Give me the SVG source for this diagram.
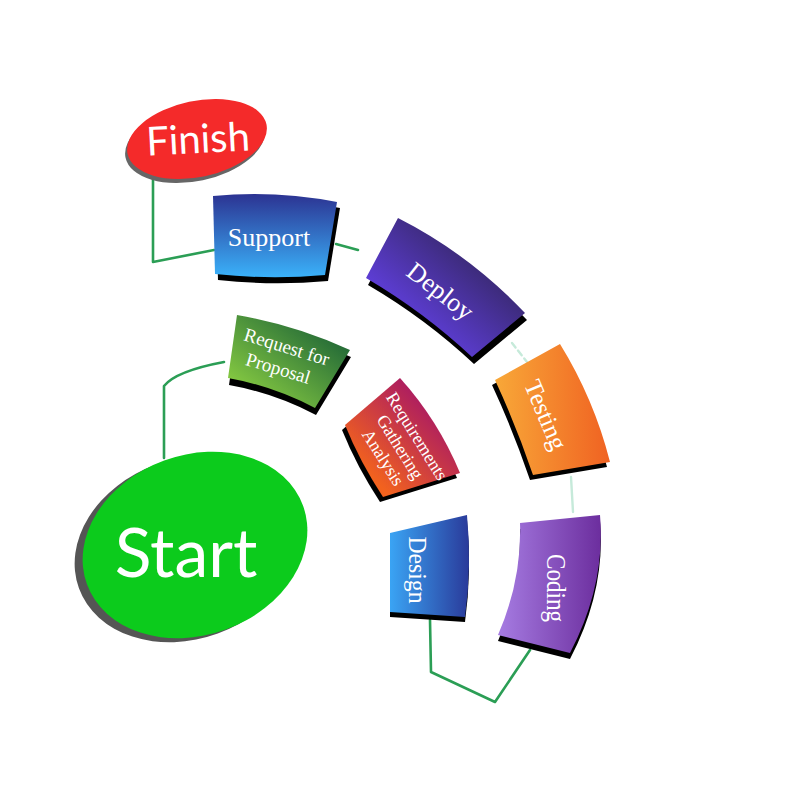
<svg xmlns="http://www.w3.org/2000/svg" width="800" height="800" viewBox="0 0 800 800">
<style>
.sh{fill:#000}
.lbl{font-family:"Liberation Serif","Times New Roman",serif;fill:#ffffff;text-anchor:middle}
.big{font-family:Lato,"Open Sans",sans-serif;fill:#ffffff;text-anchor:middle}
.con{fill:none;stroke:#2b9e55;stroke-width:2.6;stroke-linejoin:round;stroke-linecap:round}
.faint{fill:none;stroke:#c6eada;stroke-width:2.4;stroke-linecap:round}
</style>
<defs>
<linearGradient id="gSupport" x1="0" y1="0" x2="0" y2="1"><stop offset="0" stop-color="#2c3392"/><stop offset="1" stop-color="#3ab2fa"/></linearGradient>
<linearGradient id="gDeploy" x1="0" y1="1" x2="1" y2="0"><stop offset="0.1" stop-color="#6c46ff"/><stop offset="0.9" stop-color="#2a2046"/></linearGradient>
<linearGradient id="gTesting" x1="0" y1="0" x2="1" y2="0"><stop offset="0" stop-color="#f8a838"/><stop offset="1" stop-color="#f06222"/></linearGradient>
<linearGradient id="gCoding" x1="0" y1="0" x2="1" y2="0"><stop offset="0" stop-color="#a67ce2"/><stop offset="1" stop-color="#6c2e9e"/></linearGradient>
<linearGradient id="gDesign" x1="0" y1="0" x2="1" y2="0"><stop offset="0" stop-color="#3aa4f4"/><stop offset="1" stop-color="#2a3a9a"/></linearGradient>
<linearGradient id="gReq" x1="0" y1="1" x2="1" y2="0"><stop offset="0.2" stop-color="#f2621e"/><stop offset="0.85" stop-color="#a0106c"/></linearGradient>
<linearGradient id="gRfp" x1="0" y1="1" x2="1" y2="0"><stop offset="0.1" stop-color="#8cd042"/><stop offset="0.9" stop-color="#196036"/></linearGradient>
<linearGradient id="gStartLine" gradientUnits="userSpaceOnUse" x1="164" y1="400" x2="224" y2="362"><stop offset="0" stop-color="#2b9e55"/><stop offset="1" stop-color="#2b9e55" stop-opacity="0.1"/></linearGradient>
</defs>

<g id="connectors">
<path class="con" d="M153,177 L153,262 L214,250"/>
<path class="con" d="M336,244 L358,250"/>
<path class="faint" d="M512,343 Q519,352 527,362" stroke-dasharray="6 4"/>
<path class="faint" d="M571,477 L573,512"/>
<path class="con" stroke="#3aa864" d="M430,620 L431,672 L495,702 L530,650"/>
<path class="con" stroke="url(#gStartLine)" d="M164,458 L164,386 Q176,371 224,362"/>
</g>

<g id="finish">
<ellipse cx="195" cy="143" rx="71" ry="38" transform="rotate(-12 195 143)" fill="#666"/>
<ellipse cx="197" cy="139" rx="71" ry="38" transform="rotate(-12 197 139)" fill="#f42a2a"/>
<text class="big" x="198" y="153" font-size="40" transform="rotate(-3 198 140)">Finish</text>
</g>

<g id="support">
<path class="sh" transform="translate(3,6)" d="M213,196 Q275,190 337,202 L325,275 Q270,280 215,274 Z"/>
<path fill="url(#gSupport)" d="M213,196 Q275,190 337,202 L325,275 Q270,280 215,274 Z"/>
<text class="lbl" x="269" y="246" font-size="26">Support</text>
</g>

<g id="deploy">
<path class="sh" transform="translate(2,7)" d="M398,218 Q469,254 525,313 L472,357 Q424,312 366,278 Z"/>
<path fill="url(#gDeploy)" d="M398,218 Q469,254 525,313 L472,357 Q424,312 366,278 Z"/>
<text class="lbl" font-size="26" transform="translate(435,298) rotate(38)">Deploy</text>
</g>

<g id="testing">
<path class="sh" transform="translate(-3,5)" d="M495,380 L560,344 Q594,399 610,462 L533,475 Q516,425 495,380 Z"/>
<path fill="url(#gTesting)" d="M495,380 L560,344 Q594,399 610,462 L533,475 Q516,425 495,380 Z"/>
<text class="lbl" font-size="25" transform="translate(538,418) rotate(67)">Testing</text>
</g>

<g id="coding">
<path class="sh" transform="translate(0,6)" d="M520,523 L600,515 Q606,584 570,653 L498,635 Q522,580 520,523 Z"/>
<path fill="url(#gCoding)" d="M520,523 L600,515 Q606,584 570,653 L498,635 Q522,580 520,523 Z"/>
<text class="lbl" font-size="27" textLength="68" lengthAdjust="spacingAndGlyphs" transform="translate(547,588) rotate(90)">Coding</text>
</g>

<g id="design">
<path class="sh" transform="translate(0,5)" d="M390,533 L467,515 Q472,566 465,617 L390,612 Z"/>
<path fill="url(#gDesign)" d="M390,533 L467,515 Q472,566 465,617 L390,612 Z"/>
<text class="lbl" font-size="25" textLength="67" lengthAdjust="spacingAndGlyphs" transform="translate(409,570) rotate(90)">Design</text>
</g>

<g id="requirements">
<path class="sh" transform="translate(-3,5)" d="M400,378 Q438,420 460,473 L383,497 Q360,462 345,425 Z"/>
<path fill="url(#gReq)" d="M400,378 Q438,420 460,473 L383,497 Q360,462 345,425 Z"/>
<text class="lbl" font-size="18" transform="translate(395,450) rotate(58)"><tspan x="0" y="-20">Requirements</tspan><tspan x="0" y="0">Gathering</tspan><tspan x="0" y="20">Analysis</tspan></text>
</g>

<g id="rfp">
<path class="sh" transform="translate(1,7)" d="M237,315 Q296,325 350,350 L315,408 Q273,386 228,378 Z"/>
<path fill="url(#gRfp)" d="M237,315 Q296,325 350,350 L315,408 Q273,386 228,378 Z"/>
<text class="lbl" font-size="19" transform="translate(285,353) rotate(17)"><tspan x="0" y="0">Request for</tspan><tspan x="-2" y="23">Proposal</tspan></text>
</g>

<g id="start">
<ellipse cx="187" cy="549" rx="115" ry="90" transform="rotate(-20 187 549)" fill="#555"/>
<ellipse cx="195" cy="545" rx="115" ry="90" transform="rotate(-20 195 545)" fill="#0ccb1c"/>
<text class="big" x="186" y="577" font-size="68">Start</text>
</g>
</svg>
